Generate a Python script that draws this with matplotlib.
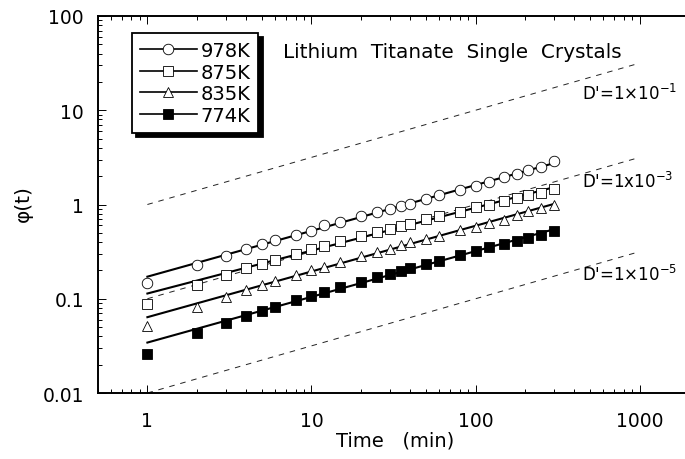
import numpy as np
import matplotlib
matplotlib.use("Agg")
import matplotlib.pyplot as plt
from matplotlib.ticker import LogLocator, NullFormatter, FixedLocator, FixedFormatter

plt.rcParams['font.family'] = ['DejaVu Sans']
plt.rcParams['lines.scale_dashes'] = False

# ---------------- data ----------------
times = [1, 2, 3, 4, 5, 6, 8, 10, 12, 15, 20, 25, 30, 35, 40, 50, 60, 80, 100, 120, 150, 180, 210, 250, 300]
phi_978 = [0.146, 0.226, 0.286, 0.34, 0.384, 0.42, 0.48, 0.52, 0.60, 0.66, 0.75, 0.826, 0.895, 0.957, 1.01,
           1.14, 1.25, 1.41, 1.56, 1.72, 1.94, 2.11, 2.31, 2.52, 2.87]
phi_875 = [0.089, 0.14, 0.177, 0.21, 0.234, 0.259, 0.298, 0.337, 0.366, 0.407, 0.463, 0.507, 0.55, 0.596, 0.621,
           0.702, 0.749, 0.826, 0.934, 0.995, 1.10, 1.17, 1.27, 1.32, 1.46]
phi_835 = [0.052, 0.082, 0.104, 0.125, 0.139, 0.153, 0.177, 0.20, 0.217, 0.243, 0.284, 0.311, 0.337, 0.375, 0.397,
           0.431, 0.46, 0.54, 0.573, 0.637, 0.69, 0.768, 0.86, 0.918, 0.995]
phi_774 = [0.026, 0.043, 0.055, 0.066, 0.075, 0.082, 0.098, 0.108, 0.117, 0.132, 0.152, 0.17, 0.184, 0.199, 0.212,
           0.234, 0.253, 0.294, 0.319, 0.352, 0.381, 0.413, 0.441, 0.478, 0.519]
series_labels = ['978K', '875K', '835K', '774K']
series_values = [phi_978, phi_875, phi_835, phi_774]

# guide lines  phi = sqrt(10 * D' * t)
guide_D = [1e-1, 1e-3, 1e-5]
guide_labels = [r"D'=1$\times$10$^{-1}$", r"D'=1x10$^{-3}$", r"D'=1$\times$10$^{-5}$"]
guide_t = [1, 1000]

xtick_vals = [1, 10, 100, 1000]
xtick_labels = ['1', '10', '100', '1000']
ytick_vals = [0.01, 0.1, 1, 10, 100]
ytick_labels = ['0.01', '0.1', '1', '10', '100']

# ---------------- figure ----------------
W, H = 685, 460
fig = plt.figure(figsize=(W / 100, H / 100), dpi=100)
ax = fig.add_axes([98 / W, 1 - 394 / H, 591 / W, 377 / H])
ax.set_xscale('log')
ax.set_yscale('log')
ax.set_xlim(0.5, 2000)
ax.set_ylim(0.01, 100)

# guide dashed lines
gt = np.array(guide_t, dtype=float)
for D in guide_D:
    ax.plot(gt, np.sqrt(10 * D * gt), color='#222222', lw=0.7, linestyle=(0, (4.0, 4.2)), zorder=1)

styles = [
    dict(marker='o', mfc='white', ms=7.6),
    dict(marker='s', mfc='white', ms=6.8),
    dict(marker='^', mfc='white', ms=7.6),
    dict(marker='s', mfc='black', ms=6.8),
]
t = np.array(times, dtype=float)
handles = []
for vals, lab, st in zip(series_values, series_labels, styles):
    v = np.array(vals)
    # power-law fit (excluding the first point)
    p = np.polyfit(np.log10(t[1:]), np.log10(v[1:]), 1)
    tl = np.array([t[0], t[-1]])
    ax.plot(tl, 10 ** np.polyval(p, np.log10(tl)), color='black', lw=1.5, zorder=2)
    ax.plot(t, v, linestyle='none', marker=st['marker'], mfc=st['mfc'], mec='black', mew=0.6,
            ms=st['ms'], zorder=3)
    h, = ax.plot([], [], color='black', lw=1.2, marker=st['marker'], mfc=st['mfc'], mec='black',
                 mew=0.6, ms=st['ms'], label=lab)
    handles.append(h)

# axes styling
for s in ['left', 'bottom', 'top']:
    ax.spines[s].set_linewidth(1.4)
ax.spines['right'].set_visible(False)
ax.tick_params(which='both', direction='in', top=True, right=False, width=0.7)
ax.tick_params(which='major', length=6, labelsize=13.5)
ax.tick_params(which='minor', length=3)
ax.tick_params(axis='x', which='major', pad=13)
ax.tick_params(axis='y', which='major', pad=10)
ax.xaxis.set_major_locator(FixedLocator(xtick_vals))
ax.xaxis.set_major_formatter(FixedFormatter(xtick_labels))
ax.yaxis.set_major_locator(FixedLocator(ytick_vals))
ax.yaxis.set_major_formatter(FixedFormatter(ytick_labels))
ax.xaxis.set_minor_locator(LogLocator(base=10, subs=np.arange(2, 10), numticks=20))
ax.yaxis.set_minor_locator(LogLocator(base=10, subs=np.arange(2, 10), numticks=20))
ax.xaxis.set_minor_formatter(NullFormatter())
ax.yaxis.set_minor_formatter(NullFormatter())

# labels
fig.text(395 / W, 1 - 441 / H, 'Time   (min)', ha='center', va='center', fontsize=14)
fig.text(23 / W, 1 - 204 / H, 'φ(t)', ha='center', va='center', rotation=90, fontsize=14.5)
fig.text(283 / W, 1 - 58 / H, 'Lithium  Titanate  Single  Crystals', ha='left', va='baseline',
         fontsize=14.4)

# guide labels
for D, lab, ypx in zip(guide_D, guide_labels, [100, 188, 281]):
    fig.text(582 / W, 1 - ypx / H, lab, ha='left', va='baseline', fontsize=12)

leg = ax.legend(handles=handles, loc='upper left', bbox_to_anchor=(132 / W, 1 - 34 / H),
                bbox_transform=fig.transFigure, fontsize=14, frameon=True, fancybox=False,
                shadow={'ox': 3, 'oy': -3, 'facecolor': 'black', 'edgecolor': 'black', 'alpha': 1},
                edgecolor='black', framealpha=1, handlelength=2.9, handletextpad=0.2,
                labelspacing=0.13, borderpad=0.42, borderaxespad=0)
leg.get_frame().set_linewidth(1.3)

fig.savefig('out.png', dpi=100)
